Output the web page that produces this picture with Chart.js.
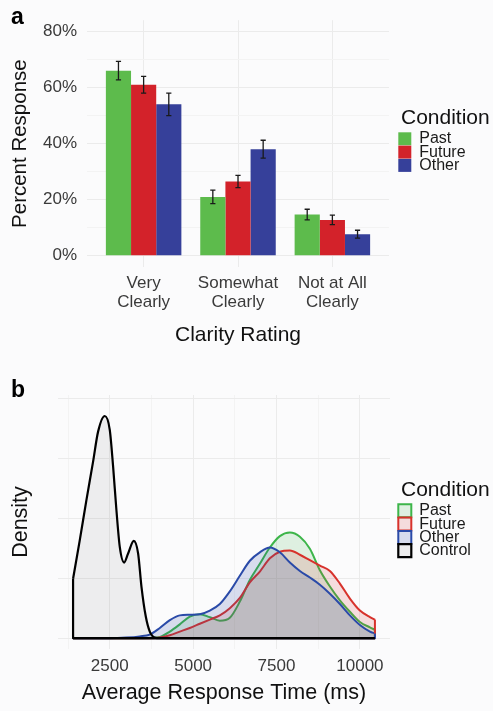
<!DOCTYPE html>
<html><head><meta charset="utf-8">
<script src="https://cdn.jsdelivr.net/npm/chart.js@4.4.1/dist/chart.umd.min.js"></script>
<style>
html,body{margin:0;padding:0;background:#fbfbfc;}
#wrap{position:relative;width:493px;height:711px;overflow:hidden;background:#fbfbfc;}
canvas{position:absolute;left:0;}
#ca{top:0;} #cb{top:360px;}
</style></head><body>
<div id="wrap"><canvas id="ca" width="493" height="355"></canvas><canvas id="cb" width="493" height="351"></canvas></div>
<script>
// ---------- Panel a data ----------
const clarityCategories = ['Very Clearly', 'Somewhat Clearly', 'Not at All Clearly'];
const clarityTickLines = [['Very', 'Clearly'], ['Somewhat', 'Clearly'], ['Not at All', 'Clearly']];
const conditions = ['Past', 'Future', 'Other'];
const pastPct = [66, 21, 14.7];
const futurePct = [61, 26.5, 12.8];
const otherPct = [54, 38, 7.7];
const pastErr = [3.3, 2.4, 1.9];
const futureErr = [3.0, 2.2, 1.7];
const otherErr = [4.0, 3.2, 1.4];
const pctMajorTicks = [0, 20, 40, 60, 80];
const pctMinorTicks = [10, 30, 50, 70];

// ---------- Panel b data ----------
const rtGrid = [1400, 2500, 3000, 3400, 3700, 4000, 4300, 4600, 4900, 5200, 5500, 5800, 6100, 6400, 6700, 7000, 7300, 7600, 7900, 8200, 8500, 8800, 9100, 9400, 9700, 10000, 10300, 10450];
const pastDensity = [0, 0, 0, 0, 0.005, 0.02, 0.11, 0.23, 0.36, 0.40, 0.35, 0.29, 0.34, 0.61, 0.97, 1.24, 1.51, 1.70, 1.76, 1.69, 1.49, 1.13, 0.86, 0.63, 0.44, 0.27, 0.18, 0.14];
const futureDensity = [0, 0, 0, 0, 0, 0.01, 0.05, 0.11, 0.17, 0.24, 0.31, 0.38, 0.50, 0.67, 0.93, 1.11, 1.33, 1.44, 1.46, 1.39, 1.30, 1.21, 1.12, 0.91, 0.66, 0.46, 0.35, 0.31];
const otherDensity = [0, 0, 0.01, 0.03, 0.06, 0.17, 0.30, 0.38, 0.39, 0.40, 0.46, 0.57, 0.78, 1.04, 1.29, 1.43, 1.51, 1.43, 1.26, 1.12, 1.01, 0.89, 0.74, 0.57, 0.38, 0.22, 0.11, 0.08];
const controlRT = [1400, 1600, 1800, 2000, 2150, 2350, 2500, 2600, 2700, 2800, 2930, 3050, 3220, 3350, 3450, 3580, 3700, 3850, 4000, 10450];
const controlDensity = [0.99, 1.63, 2.30, 2.94, 3.44, 3.70, 3.47, 2.86, 2.13, 1.52, 1.26, 1.41, 1.62, 1.41, 0.86, 0.36, 0.11, 0.01, 0, 0];
const rtMajorTicks = [2500, 5000, 7500, 10000];
const rtMinorTicks = [1250, 3750, 6250, 8750];
const densityGridTicks = [0, 1, 2, 3, 4];

// ---------- styling ----------
const FONT = '"Liberation Sans", Arial, Helvetica, sans-serif';
Chart.defaults.font.family = FONT;
Chart.defaults.color = '#3d3d3d';
Chart.defaults.animation = false;
const TICK_COLOR = '#3a3a3a';
const TITLE_COLOR = '#111111';
const GRID_MAJOR = '#ebebeb';
const GRID_MINOR = '#f3f3f3';

const panelLabel = {
  id: 'panelLabel',
  afterDraw(chart, args, opts) {
    const c = chart.ctx;
    c.save();
    c.font = 'bold 23px ' + FONT;
    c.fillStyle = '#000';
    c.textBaseline = 'alphabetic';
    c.textAlign = 'left';
    c.fillText(opts.text, opts.x, opts.y);
    c.restore();
  }
};

// fixes the legend box width and draws it without clipping to its box
const legendWidth = {
  id: 'legendWidth',
  beforeLayout(chart, args, opts) {
    const lg = chart.legend;
    if (lg && !lg._fixedWidth) {
      const origFit = lg.fit.bind(lg);
      lg.fit = function () { origFit(); this.width = opts.width; };
      lg.draw = function () { if (this.options.display) this._draw(); };
      lg._fixedWidth = true;
    }
  }
};

const errorBars = {
  id: 'errorBars',
  afterDatasetsDraw(chart) {
    const ctx = chart.ctx, ys = chart.scales.y;
    ctx.save();
    ctx.strokeStyle = '#1a1a1a';
    ctx.lineWidth = 1.3;
    chart.data.datasets.forEach((ds, i) => {
      const meta = chart.getDatasetMeta(i);
      meta.data.forEach((bar, j) => {
        const v = ds.data[j].y, e = ds.errors[j];
        const x = bar.x, y1 = ys.getPixelForValue(v + e), y2 = ys.getPixelForValue(v - e);
        const hw = 2.6;
        ctx.beginPath();
        ctx.moveTo(x, y1); ctx.lineTo(x, y2);
        ctx.moveTo(x - hw, y1); ctx.lineTo(x + hw, y1);
        ctx.moveTo(x - hw, y2); ctx.lineTo(x + hw, y2);
        ctx.stroke();
      });
    });
    ctx.restore();
  }
};

const densityEdges = {
  id: 'densityEdges',
  afterDatasetsDraw(chart) {
    const ctx = chart.ctx, y0 = chart.scales.y.getPixelForValue(0);
    chart.data.datasets.forEach((ds, i) => {
      const pts = chart.getDatasetMeta(i).data;
      const first = pts[0], last = pts[pts.length - 1];
      ctx.save();
      ctx.strokeStyle = ds.borderColor;
      ctx.lineWidth = ds.borderWidth || 2;
      ctx.lineJoin = 'round';
      ctx.beginPath();
      ctx.moveTo(first.x, first.y);
      ctx.lineTo(first.x, y0);
      ctx.lineTo(last.x, y0);
      ctx.lineTo(last.x, last.y);
      ctx.stroke();
      ctx.restore();
    });
  }
};

function legendCfg(titlePadTop) {
  return {
    position: 'right', align: 'start',
    title: { display: true, text: 'Condition', position: 'start', color: TITLE_COLOR, font: { size: 21 }, padding: { top: titlePadTop, bottom: 0.8 } },
    labels: { boxWidth: 13, boxHeight: 13, padding: -2.7, color: '#1a1a1a', font: { size: 16 },
              sort: (a, b) => a.datasetIndex - b.datasetIndex }
  };
}

// ---------- Panel a ----------
const barColors = ['#5dbb4c', '#d3222a', '#36409a'];
const pctSeries = [pastPct, futurePct, otherPct];
const errSeries = [pastErr, futureErr, otherErr];

new Chart(document.getElementById('ca'), {
  type: 'bar',
  data: {
    datasets: conditions.map((c, k) => ({
      label: c,
      data: pctSeries[k].map((v, i) => ({ x: i + 1, y: v })),
      errors: errSeries[k],
      backgroundColor: barColors[k],
      borderWidth: 0,
      categoryPercentage: 0.8,
      barPercentage: 1.0
    }))
  },
  options: {
    responsive: false, animation: false,
    layout: { padding: { top: 18, right: 0, bottom: 0, left: 0 } },
    plugins: {
      legend: legendCfg(89.5),
      legendWidth: { width: 92 },
      tooltip: { enabled: false },
      panelLabel: { text: 'a', x: 11, y: 24 }
    },
    scales: {
      x: {
        type: 'linear', min: 0.4, max: 3.6, offset: false,
        afterBuildTicks: s => { s.ticks = clarityCategories.map((c, i) => ({ value: i + 1 })); },
        ticks: { autoSkip: false, maxRotation: 0, padding: 7, color: TICK_COLOR, font: { size: 17, lineHeight: 1.1 },
                 callback: v => clarityTickLines[Math.round(v) - 1] },
        grid: { color: GRID_MAJOR, drawTicks: false, offset: false },
        border: { display: false },
        title: { display: true, text: 'Clarity Rating', color: TITLE_COLOR, font: { size: 21 }, padding: { top: 0, bottom: 7.4 } },
        afterFit: s => { s.height = 88; }
      },
      y: {
        min: -4, max: 84,
        afterBuildTicks: s => { s.ticks = pctMajorTicks.concat(pctMinorTicks).sort((a, b) => a - b).map(v => ({ value: v })); },
        ticks: { autoSkip: false, padding: 10, color: TICK_COLOR, font: { size: 17 },
                 callback: v => pctMajorTicks.includes(v) ? v + '%' : '' },
        grid: { drawTicks: false, color: c => pctMajorTicks.includes(c.tick.value) ? GRID_MAJOR : GRID_MINOR },
        border: { display: false },
        title: { display: true, text: 'Percent Response', color: TITLE_COLOR, font: { size: 20.5 }, padding: { top: 8 } },
        afterFit: s => { s.width = 87; }
      },
      gap: {
        type: 'linear', position: 'right',
        grid: { display: false }, ticks: { display: false }, border: { display: false },
        afterFit: s => { s.width = 12; }
      }
    }
  },
  plugins: [legendWidth, errorBars, panelLabel]
});

// ---------- Panel b ----------
// drawing order as in the original: Past at the bottom, Control on top
const lineSeries = [
  { label: 'Past', x: rtGrid, y: pastDensity, color: '#3db54a', fill: 'rgba(61,181,74,0.15)', order: 3 },
  { label: 'Future', x: rtGrid, y: futureDensity, color: '#d7322c', fill: 'rgba(215,50,44,0.15)', order: 2 },
  { label: 'Other', x: rtGrid, y: otherDensity, color: '#2a4aa8', fill: 'rgba(42,74,168,0.17)', order: 1 },
  { label: 'Control', x: controlRT, y: controlDensity, color: '#000000', fill: 'rgba(0,0,0,0.055)', order: 0 }
];

new Chart(document.getElementById('cb'), {
  type: 'line',
  data: {
    datasets: lineSeries.map(s => ({
      label: s.label,
      data: s.x.map((x, i) => ({ x: x, y: s.y[i] })),
      borderColor: s.color,
      backgroundColor: s.fill,
      borderWidth: s.label === 'Control' ? 2.2 : 2,
      fill: 'origin',
      order: s.order,
      cubicInterpolationMode: 'monotone',
      pointRadius: 0
    }))
  },
  options: {
    responsive: false, animation: false,
    layout: { padding: { top: 35, right: 0, bottom: 0, left: 0 } },
    plugins: {
      legend: legendCfg(84.5),
      legendWidth: { width: 92 },
      tooltip: { enabled: false },
      panelLabel: { text: 'b', x: 11, y: 37 }
    },
    scales: {
      x: {
        type: 'linear', min: 948, max: 10902,
        afterBuildTicks: s => { s.ticks = rtMajorTicks.concat(rtMinorTicks).sort((a, b) => a - b).map(v => ({ value: v })); },
        ticks: { autoSkip: false, maxRotation: 0, padding: 7.65, color: TICK_COLOR, font: { size: 17, lineHeight: 1.1 },
                 callback: v => rtMajorTicks.includes(v) ? String(v) : '' },
        grid: { drawTicks: false, color: c => rtMajorTicks.includes(c.tick.value) ? GRID_MAJOR : GRID_MINOR },
        border: { display: false },
        title: { display: true, text: 'Average Response Time (ms)', color: TITLE_COLOR, font: { size: 21.5 }, padding: { top: 0, bottom: 4.8 } },
        afterFit: s => { s.height = 62; }
      },
      y: {
        type: 'linear', min: -0.18, max: 4.05,
        afterBuildTicks: s => { s.ticks = densityGridTicks.map(v => ({ value: v })); },
        ticks: { display: false },
        grid: { drawTicks: false, color: GRID_MAJOR },
        border: { display: false },
        title: { display: true, text: 'Density', color: TITLE_COLOR, font: { size: 21.5 }, padding: { top: 8 } },
        afterFit: s => { s.width = 58; }
      },
      gap: {
        type: 'linear', position: 'right',
        grid: { display: false }, ticks: { display: false }, border: { display: false },
        afterFit: s => { s.width = 11; }
      }
    }
  },
  plugins: [legendWidth, densityEdges, panelLabel]
});
</script>
</body></html>
